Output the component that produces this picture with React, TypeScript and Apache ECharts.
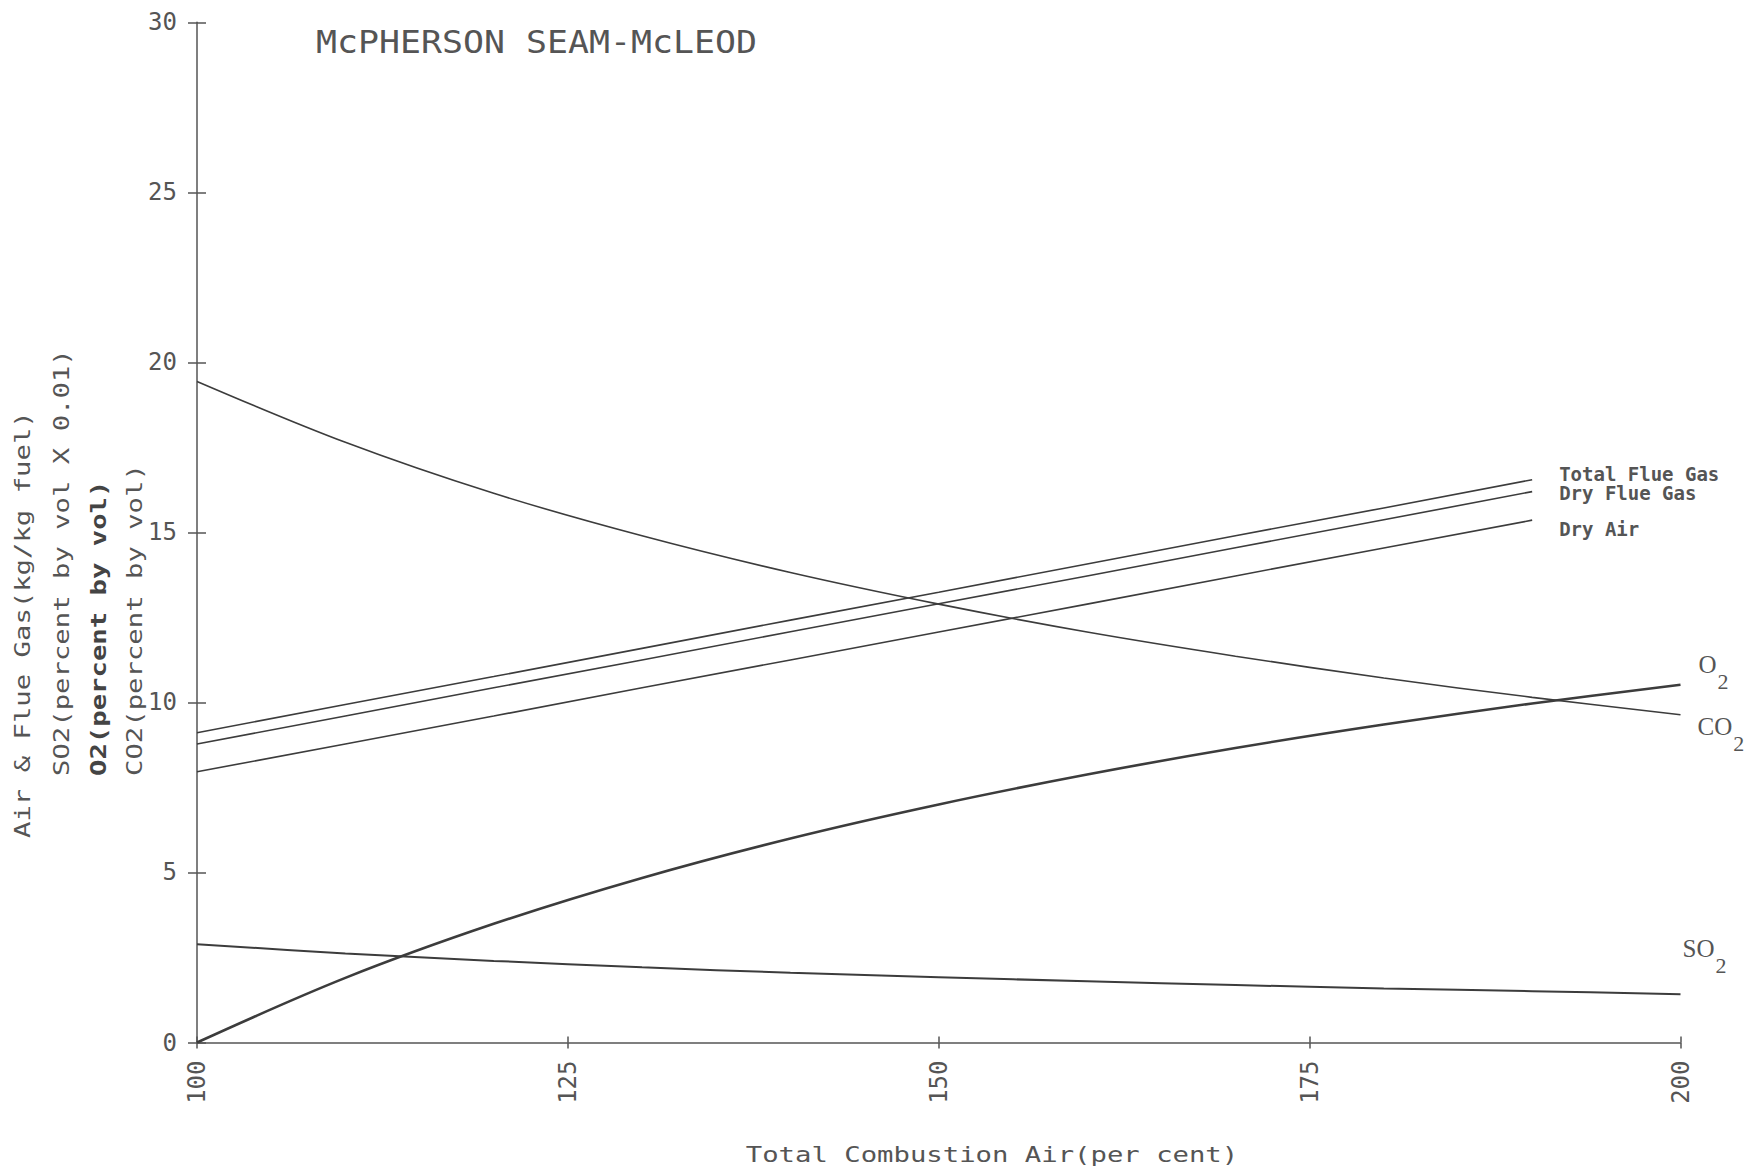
import React, { useEffect, useRef } from "react";
import * as echarts from "echarts";

// Total combustion air (per cent)
const airPct = [100, 110, 120, 130, 140, 150, 160, 170, 180, 190, 200];
const flueAirPct = [100, 110, 120, 130, 140, 150, 160, 170, 180, 190];

// Gas concentrations
const co2Vals = [19.44, 17.65, 16.15, 14.9, 13.82, 12.89, 12.07, 11.36, 10.72, 10.15, 9.64];
const o2Vals = [0, 1.9, 3.49, 4.84, 6.0, 7.0, 7.88, 8.66, 9.35, 9.97, 10.52];
const so2Vals = [2.89, 2.62, 2.4, 2.21, 2.05, 1.92, 1.8, 1.69, 1.59, 1.51, 1.42];

// Air & flue gas (kg/kg fuel)
const totalFlueGas = [9.11, 9.94, 10.76, 11.59, 12.42, 13.24, 14.07, 14.9, 15.72, 16.55];
const dryFlueGas = [8.78, 9.6, 10.43, 11.25, 12.08, 12.9, 13.72, 14.55, 15.37, 16.2];
const dryAir = [7.96, 8.78, 9.6, 10.43, 11.25, 12.07, 12.89, 13.72, 14.54, 15.36];

const yTicks = ["0", "5", "10", "15", "20", "25", "30"];
const xTicks = ["100", "125", "150", "175", "200"];

const INK = "#3c3c3c";
const TXT = "#555555";
const MONO = "DejaVu Sans Mono";
const SERIF = "Liberation Serif";

function pairs(xs: number[], ys: number[]) {
  return xs.map((x, i) => [x, ys[i]]);
}

function chemLabel(main: string, offY: number, dist: number) {
  return {
    show: true,
    distance: dist,
    offset: [0, offY],
    formatter: "{b|" + main + "}{s|2}",
    rich: {
      b: { fontSize: 25, fontFamily: SERIF, color: TXT, padding: [0, 1, 34, 0] },
      s: { fontSize: 22, fontFamily: SERIF, color: TXT },
    },
  };
}

function gasLabel(name: string, offY: number) {
  return {
    show: true,
    distance: 27,
    offset: [0, offY],
    formatter: name,
    fontFamily: MONO,
    fontSize: 19,
    fontWeight: "bold",
    color: TXT,
  };
}

export default function App() {
  const ref = useRef<HTMLDivElement>(null);
  useEffect(() => {
    document.body.style.margin = "0";
    const chart = echarts.init(ref.current!, null, { renderer: "svg" });
    const lineBase = (name: string, data: number[][], width: number, smooth: number | boolean, endLabel: any) => ({
      type: "line",
      name,
      data,
      showSymbol: false,
      symbol: "none",
      smooth,
      lineStyle: { color: INK, width },
      endLabel,
      labelLayout: { hideOverlap: false },
      emphasis: { disabled: true },
      z: 3,
    });
    const axisText = { fontFamily: MONO, color: TXT };
    const hiddenLine = { show: true, onZero: false, lineStyle: { color: "rgba(0,0,0,0)", width: 0 } };
    chart.setOption({
      animation: false,
      backgroundColor: "#ffffff",
      grid: { left: 197, right: 71.5, top: 22.3, bottom: 132.5, containLabel: false },
      xAxis: [
        {
          type: "value",
          min: 100,
          max: 200,
          interval: 25,
          position: "bottom",
          axisLine: { show: true, onZero: false, lineStyle: { color: TXT, width: 1.5 } },
          axisTick: { show: true, length: 6, lineStyle: { color: TXT, width: 1.5 } },
          splitLine: { show: false },
          axisLabel: {
            ...axisText,
            fontSize: 24,
            rotate: 90,
            margin: 18,
            formatter: (v: number) => xTicks[Math.round((v - 100) / 25)],
          },
        },
        {
          type: "value",
          min: 100,
          max: 200,
          interval: 25,
          position: "bottom",
          offset: 0,
          axisLine: hiddenLine,
          axisTick: { show: true, inside: true, length: 6, lineStyle: { color: TXT, width: 1.5 } },
          splitLine: { show: false },
          axisLabel: { show: false },
        },
      ],
      yAxis: [
        {
          type: "value",
          min: 0,
          max: 30,
          interval: 5,
          position: "left",
          axisLine: { show: true, onZero: false, lineStyle: { color: TXT, width: 1.5 } },
          axisTick: { show: true, length: 9, lineStyle: { color: TXT, width: 1.5 } },
          splitLine: { show: false },
          axisLabel: {
            ...axisText,
            fontSize: 24,
            margin: 20,
            padding: [0, 0, 12, 0],
            formatter: (v: number) => yTicks[Math.round(v / 5)],
          },
        },
        {
          type: "value",
          min: 0,
          max: 30,
          interval: 5,
          position: "left",
          offset: 0,
          axisLine: hiddenLine,
          axisTick: { show: true, inside: true, length: 9, lineStyle: { color: TXT, width: 1.5 } },
          splitLine: { show: false },
          axisLabel: { show: false },
        },
      ],
      series: [
        lineBase("Total Flue Gas", pairs(flueAirPct, totalFlueGas), 1.6, false, gasLabel("Total Flue Gas", -6)),
        lineBase("Dry Flue Gas", pairs(flueAirPct, dryFlueGas), 1.6, false, gasLabel("Dry Flue Gas", 1)),
        lineBase("Dry Air", pairs(flueAirPct, dryAir), 1.6, false, gasLabel("Dry Air", 9)),
        lineBase("CO2", pairs(airPct, co2Vals), 1.6, 0.35, chemLabel("CO", 29, 17)),
        lineBase("O2", pairs(airPct, o2Vals), 2.6, 0.35, chemLabel("O", -3, 18)),
        lineBase("SO2", pairs(airPct, so2Vals), 2.0, 0.35, chemLabel("SO", -29, 2)),
        {
          type: "line",
          name: "ticks",
          xAxisIndex: 1,
          yAxisIndex: 1,
          data: [],
          silent: true,
        },
      ],
      graphic: [
        {
          type: "text",
          x: 316,
          y: 42,
          scaleX: 1.09,
          style: {
            text: "McPHERSON SEAM-McLEOD",
            fontFamily: MONO,
            fontSize: 32,
            fill: TXT,
            textAlign: "left",
            textVerticalAlign: "middle",
          },
        },
        {
          type: "text",
          x: 992,
          y: 1154,
          scaleX: 1.24,
          style: {
            text: "Total Combustion Air(per cent)",
            fontFamily: MONO,
            fontSize: 22,
            fill: TXT,
            textAlign: "center",
            textVerticalAlign: "middle",
          },
        },
        {
          type: "text",
          x: 22,
          y: 838,
          rotation: Math.PI / 2,
          scaleX: 1.24,
          style: {
            text: "Air & Flue Gas(kg/kg fuel)",
            fontFamily: MONO,
            fontSize: 22,
            fill: TXT,
            textAlign: "left",
            textVerticalAlign: "middle",
          },
        },
        {
          type: "text",
          x: 61,
          y: 776,
          rotation: Math.PI / 2,
          scaleX: 1.24,
          style: {
            text: "SO2(percent by vol X 0.01)",
            fontFamily: MONO,
            fontSize: 22,
            fill: TXT,
            textAlign: "left",
            textVerticalAlign: "middle",
          },
        },
        {
          type: "text",
          x: 98,
          y: 776,
          rotation: Math.PI / 2,
          scaleX: 1.24,
          style: {
            text: "O2(percent by vol)",
            fontFamily: MONO,
            fontSize: 22,
            fontWeight: "bold",
            fill: "#444444",
            textAlign: "left",
            textVerticalAlign: "middle",
          },
        },
        {
          type: "text",
          x: 134,
          y: 776,
          rotation: Math.PI / 2,
          scaleX: 1.24,
          style: {
            text: "CO2(percent by vol)",
            fontFamily: MONO,
            fontSize: 22,
            fill: TXT,
            textAlign: "left",
            textVerticalAlign: "middle",
          },
        },
      ],
    });
    return () => chart.dispose();
  }, []);
  return <div ref={ref} style={{ width: 1752, height: 1175 }} />;
}
